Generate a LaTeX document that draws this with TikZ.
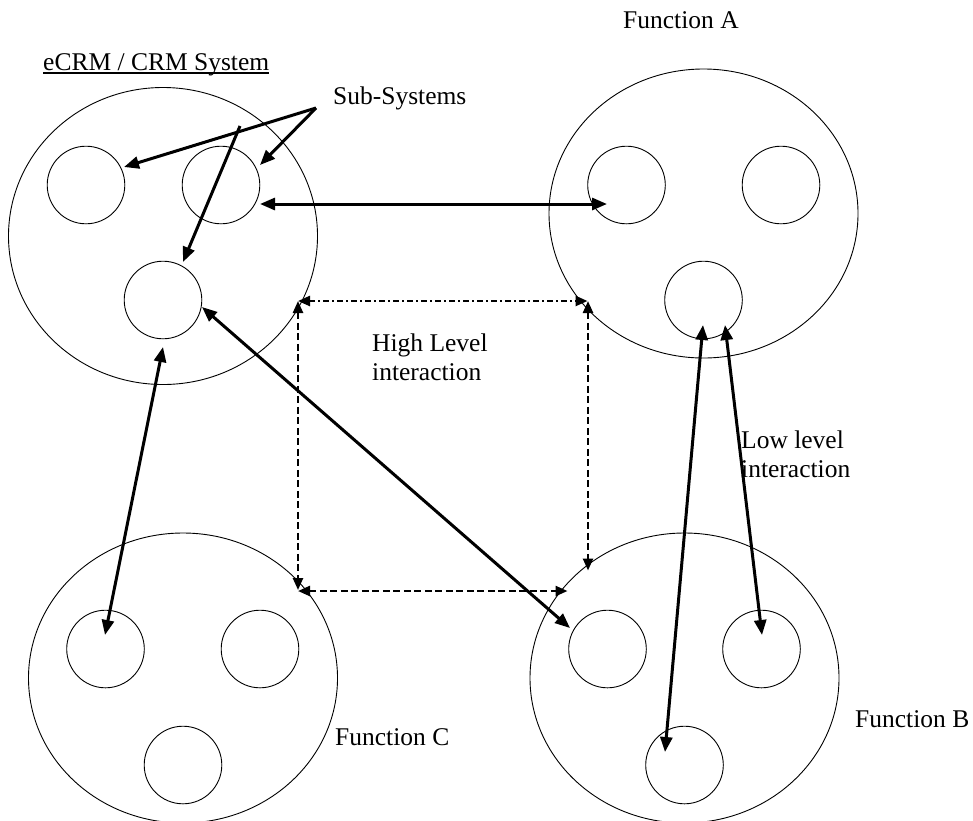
\documentclass[tikz,border=0pt]{standalone}
\usepackage{fontspec}
\setmainfont{Liberation Serif}
\usetikzlibrary{arrows.meta,shapes.geometric,calc}
\begin{document}
\begin{tikzpicture}[x=1pt,y=-1pt,
  bigring/.style={draw, ellipse, line width=0.9pt, inner sep=0pt, minimum width=309pt},
  subring/.style={draw, circle, line width=0.9pt, inner sep=0pt, minimum size=77.6pt},
  link/.style={line width=3pt, {Triangle[length=15pt,width=12pt]}-{Triangle[length=15pt,width=12pt]}},
  pointer/.style={line width=3pt, -{Triangle[length=15pt,width=12pt]}},
  hidash/.style={line width=2.4pt, dash pattern=on 7pt off 3.5pt,
    {Triangle[length=12pt,width=10pt]}-{Triangle[length=12pt,width=10pt]}},
  hidashdot/.style={line width=2.4pt, dash pattern=on 6pt off 3pt on 2pt off 3pt,
    {Triangle[length=12pt,width=10pt]}-{Triangle[length=12pt,width=10pt]}},
  txt/.style={font=\fontsize{25.5}{28.5}\selectfont, inner sep=0pt, anchor=base west, align=left}
]
\useasboundingbox (0,0) rectangle (973,820);

% systems
\node[bigring, minimum height=297pt] (tl) at (163,236) {};
\node[bigring, minimum height=289pt] (tr) at (703.5,213.5) {};
\node[bigring, minimum height=290pt] (bl) at (183,678) {};
\node[bigring, minimum height=290pt] (br) at (684.5,678) {};

% sub-systems
\node[subring] (tl1) at (86,185) {};
\node[subring] (tl2) at (221,185) {};
\node[subring] (tl3) at (163,300) {};
\node[subring] (tr1) at (626.5,185) {};
\node[subring] (tr2) at (781,185) {};
\node[subring] (tr3) at (703.5,300) {};
\node[subring] (bl1) at (105.5,649) {};
\node[subring] (bl2) at (260,649) {};
\node[subring] (bl3) at (183,765) {};
\node[subring] (br1) at (607.5,649) {};
\node[subring] (br2) at (761.5,649) {};
\node[subring] (br3) at (684.5,765) {};

% labels (multi-line nodes sit on the baseline of their last line)
\node[txt] (title) at (43,70) {eCRM / CRM System};
\draw[line width=1.1pt] ([yshift=-3pt]title.base west) -- ([yshift=-3pt]title.base east);
\node[txt] (subsys) at (333,104) {Sub-Systems};
\node[txt] (fa) at (623,28) {Function A};
\node[txt] (fb) at (855,727) {Function B};
\node[txt] (fc) at (335,745) {Function C};
\node[txt] (hi) at (372,380) {High Level\\interaction};
\node[txt] (lo) at (741,477) {Low level\\interaction};

% sub-system pointers
\coordinate (fork) at ($(subsys.base west)+(-17,4)$);
\draw[pointer] (fork) -- ($(tl1)+(38,-18)$);
\draw[pointer] (fork) -- ($(tl2)+(39,-20)$);
\draw[pointer] ($(tl2)+(19,-59)$) -- ($(tl3)+(20,-38)$);

% low level interaction
\draw[link] ($(tl2)+(39,19)$) -- ($(tr1)+(-19.5,19)$);
\draw[link] ($(tl3)+(39,7)$) -- ($(br1)+(-37.5,-21)$);
\draw[link] ($(tl3)+(0,47)$) -- ($(bl1)+(-0.5,-14)$);
\draw[link] ($(tr3)+(-0.5,25)$) -- ($(br3)+(-19.5,-13)$);
\draw[link] ($(tr3)+(21.5,25)$) -- ($(br2)+(0.5,-14)$);

% high level interaction
\coordinate (hTL) at ($(tl)+(135,65)$);
\coordinate (hTR) at ($(tr)+(-116,87.5)$);
\coordinate (hTRv) at ($(tr)+(-115.5,87.5)$);
\coordinate (hBL) at ($(bl)+(115,-88)$);
\coordinate (hBLh) at ($(bl)+(115,-87)$);
\coordinate (hBRh) at ($(br)+(-117,-87)$);
\coordinate (hBRv) at ($(br)+(-96.5,-107.5)$);
\draw[hidashdot] (hTL) -- (hTR);
\draw[hidash] (hTL) -- (hBL);
\draw[hidash] (hBLh) -- (hBRh);
\draw[hidash] (hTRv) -- (hBRv);
\end{tikzpicture}
\end{document}
